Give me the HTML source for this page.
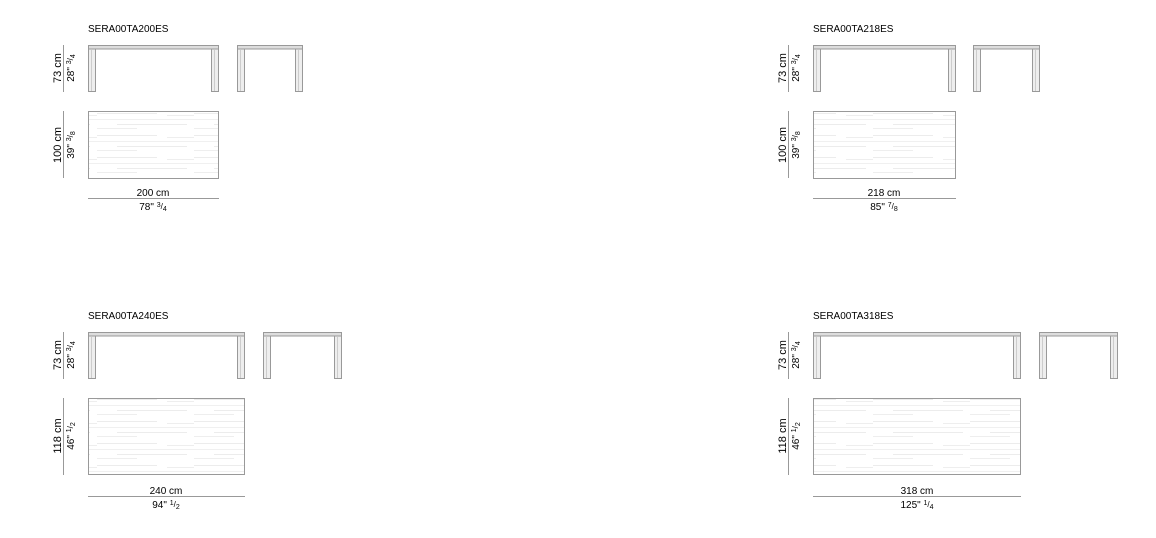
<!DOCTYPE html>
<html><head><meta charset="utf-8"><style>
html,body{margin:0;padding:0;background:#fff;}
svg{display:block;font-family:"Liberation Sans",Arial,sans-serif;}
</style></head><body>
<svg width="1156" height="538" viewBox="0 0 1156 538" xmlns="http://www.w3.org/2000/svg">
<defs>
<pattern id="g" patternUnits="userSpaceOnUse" width="97" height="22">
<line x1="0" y1="3.5" x2="60" y2="3.5" stroke="#ececec"/>
<line x1="70" y1="5.5" x2="97" y2="5.5" stroke="#eeeeee"/>
<line x1="0" y1="9.5" x2="97" y2="9.5" stroke="#f0f0f0"/>
<line x1="20" y1="14.5" x2="90" y2="14.5" stroke="#ececec"/>
<line x1="0" y1="18.5" x2="40" y2="18.5" stroke="#eeeeee"/>
</pattern>
</defs>
<g fill="#000" font-size="10">
<g stroke="#999" stroke-width="1" fill="#eeeeee">
<rect x="88.5" y="45.5" width="130" height="3.5" fill="#ddd"/>
<rect x="88.5" y="49" width="7" height="42.5"/><rect x="211.5" y="49" width="7" height="42.5"/>
<rect x="237.5" y="45.5" width="65" height="3.5" fill="#ddd"/>
<rect x="237.5" y="49" width="7" height="42.5"/><rect x="295.5" y="49" width="7" height="42.5"/>
<rect x="88.5" y="111.5" width="130" height="67" fill="url(#g)"/>
<rect x="813.5" y="45.5" width="142" height="3.5" fill="#ddd"/>
<rect x="813.5" y="49" width="7" height="42.5"/><rect x="948.5" y="49" width="7" height="42.5"/>
<rect x="973.5" y="45.5" width="66" height="3.5" fill="#ddd"/>
<rect x="973.5" y="49" width="7" height="42.5"/><rect x="1032.5" y="49" width="7" height="42.5"/>
<rect x="813.5" y="111.5" width="142" height="67" fill="url(#g)"/>
<rect x="88.5" y="332.5" width="156" height="3.5" fill="#ddd"/>
<rect x="88.5" y="336" width="7" height="42.5"/><rect x="237.5" y="336" width="7" height="42.5"/>
<rect x="263.5" y="332.5" width="78" height="3.5" fill="#ddd"/>
<rect x="263.5" y="336" width="7" height="42.5"/><rect x="334.5" y="336" width="7" height="42.5"/>
<rect x="88.5" y="398.5" width="156" height="76" fill="url(#g)"/>
<rect x="813.5" y="332.5" width="207" height="3.5" fill="#ddd"/>
<rect x="813.5" y="336" width="7" height="42.5"/><rect x="1013.5" y="336" width="7" height="42.5"/>
<rect x="1039.5" y="332.5" width="78" height="3.5" fill="#ddd"/>
<rect x="1039.5" y="336" width="7" height="42.5"/><rect x="1110.5" y="336" width="7" height="42.5"/>
<rect x="813.5" y="398.5" width="207" height="76" fill="url(#g)"/>
</g>
<g stroke="#ccc" stroke-width="1">
<line x1="91.5" y1="50" x2="91.5" y2="91"/><line x1="214.5" y1="50" x2="214.5" y2="91"/>
<line x1="240.5" y1="50" x2="240.5" y2="91"/><line x1="298.5" y1="50" x2="298.5" y2="91"/>
<line x1="816.5" y1="50" x2="816.5" y2="91"/><line x1="951.5" y1="50" x2="951.5" y2="91"/>
<line x1="976.5" y1="50" x2="976.5" y2="91"/><line x1="1035.5" y1="50" x2="1035.5" y2="91"/>
<line x1="91.5" y1="337" x2="91.5" y2="378"/><line x1="240.5" y1="337" x2="240.5" y2="378"/>
<line x1="266.5" y1="337" x2="266.5" y2="378"/><line x1="337.5" y1="337" x2="337.5" y2="378"/>
<line x1="816.5" y1="337" x2="816.5" y2="378"/><line x1="1016.5" y1="337" x2="1016.5" y2="378"/>
<line x1="1042.5" y1="337" x2="1042.5" y2="378"/><line x1="1113.5" y1="337" x2="1113.5" y2="378"/>
</g>
<g stroke="#999" stroke-width="1">
<line x1="63.5" y1="45" x2="63.5" y2="92"/><line x1="63.5" y1="111" x2="63.5" y2="178"/>
<line x1="88" y1="198.5" x2="219" y2="198.5"/>
<line x1="788.5" y1="45" x2="788.5" y2="92"/><line x1="788.5" y1="111" x2="788.5" y2="178"/>
<line x1="813" y1="198.5" x2="956" y2="198.5"/>
<line x1="63.5" y1="332" x2="63.5" y2="379"/><line x1="63.5" y1="398" x2="63.5" y2="475"/>
<line x1="88" y1="496.5" x2="245" y2="496.5"/>
<line x1="788.5" y1="332" x2="788.5" y2="379"/><line x1="788.5" y1="398" x2="788.5" y2="475"/>
<line x1="813" y1="496.5" x2="1021" y2="496.5"/>
</g>
<text x="88" y="32">SERA00TA200ES</text>
<text x="813" y="32">SERA00TA218ES</text>
<text x="88" y="319">SERA00TA240ES</text>
<text x="813" y="319">SERA00TA318ES</text>
<g text-anchor="middle">
<text x="153" y="196">200 cm</text>
<text x="153" y="210">78" <tspan font-size="7" dy="-3">3</tspan><tspan font-size="8" dy="2">/</tspan><tspan font-size="7" dy="2">4</tspan></text>
<text x="884" y="196">218 cm</text>
<text x="884" y="210">85" <tspan font-size="7" dy="-3">7</tspan><tspan font-size="8" dy="2">/</tspan><tspan font-size="7" dy="2">8</tspan></text>
<text x="166" y="494">240 cm</text>
<text x="166" y="508">94" <tspan font-size="7" dy="-3">1</tspan><tspan font-size="8" dy="2">/</tspan><tspan font-size="7" dy="2">2</tspan></text>
<text x="917" y="494">318 cm</text>
<text x="917" y="508">125" <tspan font-size="7" dy="-3">1</tspan><tspan font-size="8" dy="2">/</tspan><tspan font-size="7" dy="2">4</tspan></text>
<text transform="translate(61,68) rotate(-90)" font-size="11">73 cm</text>
<text transform="translate(74,68) rotate(-90)">28" <tspan font-size="7" dy="-3">3</tspan><tspan font-size="8" dy="2">/</tspan><tspan font-size="7" dy="2">4</tspan></text>
<text transform="translate(61,145) rotate(-90)" font-size="11">100 cm</text>
<text transform="translate(74,145) rotate(-90)">39" <tspan font-size="7" dy="-3">3</tspan><tspan font-size="8" dy="2">/</tspan><tspan font-size="7" dy="2">8</tspan></text>
<text transform="translate(786,68) rotate(-90)" font-size="11">73 cm</text>
<text transform="translate(799,68) rotate(-90)">28" <tspan font-size="7" dy="-3">3</tspan><tspan font-size="8" dy="2">/</tspan><tspan font-size="7" dy="2">4</tspan></text>
<text transform="translate(786,145) rotate(-90)" font-size="11">100 cm</text>
<text transform="translate(799,145) rotate(-90)">39" <tspan font-size="7" dy="-3">3</tspan><tspan font-size="8" dy="2">/</tspan><tspan font-size="7" dy="2">8</tspan></text>
<text transform="translate(61,355) rotate(-90)" font-size="11">73 cm</text>
<text transform="translate(74,355) rotate(-90)">28" <tspan font-size="7" dy="-3">3</tspan><tspan font-size="8" dy="2">/</tspan><tspan font-size="7" dy="2">4</tspan></text>
<text transform="translate(61,436) rotate(-90)" font-size="11">118 cm</text>
<text transform="translate(74,436) rotate(-90)">46" <tspan font-size="7" dy="-3">1</tspan><tspan font-size="8" dy="2">/</tspan><tspan font-size="7" dy="2">2</tspan></text>
<text transform="translate(786,355) rotate(-90)" font-size="11">73 cm</text>
<text transform="translate(799,355) rotate(-90)">28" <tspan font-size="7" dy="-3">3</tspan><tspan font-size="8" dy="2">/</tspan><tspan font-size="7" dy="2">4</tspan></text>
<text transform="translate(786,436) rotate(-90)" font-size="11">118 cm</text>
<text transform="translate(799,436) rotate(-90)">46" <tspan font-size="7" dy="-3">1</tspan><tspan font-size="8" dy="2">/</tspan><tspan font-size="7" dy="2">2</tspan></text>
</g>
</g>
</svg>
</body></html>
